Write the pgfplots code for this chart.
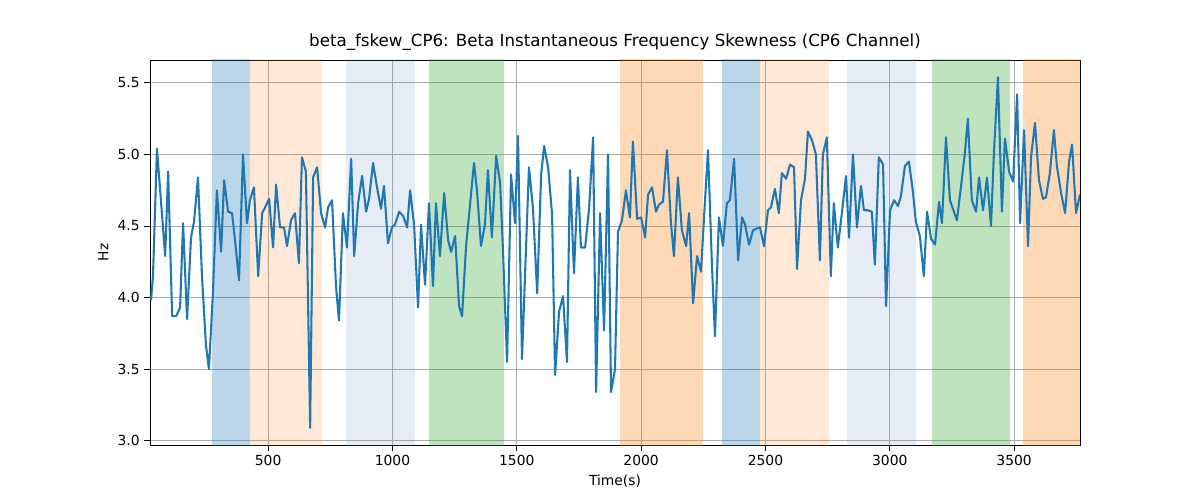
\documentclass[border=0pt]{standalone}
\usepackage{pgfplots}
\pgfplotsset{compat=1.18}
\usepackage{fontspec}
\setmainfont{DejaVu Sans}
\definecolor{c0}{HTML}{1F77B4}
\definecolor{c1}{HTML}{FF7F0E}
\definecolor{c2}{HTML}{2CA02C}
\definecolor{lav}{RGB}{100,140,200}
\begin{document}
\begin{tikzpicture}
\begin{axis}[
  width=697.5pt, height=288.75pt, scale only axis,
  xmin=25, xmax=3765, ymin=2.97, ymax=5.66,
  xtick={500,1000,1500,2000,2500,3000,3500},
  ytick={3.0,3.5,4.0,4.5,5.0,5.5},
  xticklabel style={/pgf/number format/.cd,1000 sep={}},
  yticklabel style={/pgf/number format/.cd,fixed,fixed zerofill,precision=1},
  /pgf/number format/assume math mode=true,
  ticklabel style={font=\fontsize{10.4}{12}\selectfont},
  xtick pos=bottom, ytick pos=left,
  grid=major, major grid style={gray!65, line width=0.6pt},
  tick align=outside, tick style={black, line width=0.6pt},
  axis line style={line width=0.6pt},
  xlabel={Time(s)}, ylabel={Hz},
  label style={font=\fontsize{10.4}{12}\selectfont},
  title={beta\_fskew\_CP6: Beta Instantaneous Frequency Skewness (CP6 Channel)},
  title style={font=\fontsize{12.5}{14}\selectfont, yshift=-2pt},
  clip=true,
]
\coordinate (o) at (rel axis cs:0,0);
\addplot[fill=c0, fill opacity=0.3, draw=none] coordinates {(274,2.9)(427,2.9)(427,5.7)(274,5.7)} -- cycle;
\addplot[fill=c1, fill opacity=0.17, draw=none] coordinates {(427,2.9)(717,2.9)(717,5.7)(427,5.7)} -- cycle;
\addplot[fill=lav, fill opacity=0.17, draw=none] coordinates {(813,2.9)(1090,2.9)(1090,5.7)(813,5.7)} -- cycle;
\addplot[fill=c2, fill opacity=0.3, draw=none] coordinates {(1147,2.9)(1449,2.9)(1449,5.7)(1147,5.7)} -- cycle;
\addplot[fill=c1, fill opacity=0.3, draw=none] coordinates {(1915,2.9)(2249,2.9)(2249,5.7)(1915,5.7)} -- cycle;
\addplot[fill=c0, fill opacity=0.3, draw=none] coordinates {(2326,2.9)(2479,2.9)(2479,5.7)(2326,5.7)} -- cycle;
\addplot[fill=c1, fill opacity=0.17, draw=none] coordinates {(2479,2.9)(2755,2.9)(2755,5.7)(2479,5.7)} -- cycle;
\addplot[fill=lav, fill opacity=0.17, draw=none] coordinates {(2827,2.9)(3105,2.9)(3105,5.7)(2827,5.7)} -- cycle;
\addplot[fill=c2, fill opacity=0.3, draw=none] coordinates {(3169,2.9)(3482,2.9)(3482,5.7)(3169,5.7)} -- cycle;
\addplot[fill=c1, fill opacity=0.3, draw=none] coordinates {(3534,2.9)(3765,2.9)(3765,5.7)(3534,5.7)} -- cycle;
\addplot[c0, line width=1.55pt, mark=none, line join=round] table {
29 3.98
37 4.15
53 5.04
86 4.29
98 4.88
114 3.87
130 3.87
146 3.93
158 4.52
174 3.85
190 4.42
202 4.53
218 4.84
234 4.15
250 3.67
262 3.50
278 4.03
294 4.75
311 4.32
323 4.82
339 4.60
355 4.59
367 4.40
383 4.12
399 5.00
415 4.52
427 4.68
443 4.77
460 4.15
476 4.59
488 4.63
504 4.69
520 4.35
532 4.79
548 4.49
564 4.49
576 4.36
592 4.54
608 4.59
624 4.24
636 4.98
652 4.88
669 3.09
681 4.84
697 4.91
713 4.59
729 4.49
741 4.63
757 4.68
773 4.08
785 3.84
801 4.59
817 4.35
834 4.97
846 4.29
862 4.66
878 4.85
894 4.60
906 4.69
922 4.94
938 4.77
954 4.62
966 4.78
982 4.38
998 4.49
1010 4.51
1027 4.60
1043 4.57
1059 4.49
1071 4.75
1087 4.51
1103 3.93
1115 4.51
1131 4.09
1147 4.66
1163 4.08
1175 4.66
1191 4.29
1208 4.73
1224 4.40
1236 4.32
1252 4.43
1268 3.94
1280 3.87
1296 4.36
1312 4.65
1328 4.94
1340 4.75
1356 4.36
1372 4.51
1384 4.89
1400 4.42
1417 4.99
1433 4.80
1445 4.31
1461 3.55
1477 4.86
1493 4.52
1505 5.13
1521 3.57
1537 4.34
1549 4.91
1565 4.63
1582 4.03
1598 4.86
1610 5.06
1626 4.91
1642 4.58
1654 3.46
1670 3.90
1686 4.01
1702 3.55
1714 4.89
1730 4.17
1746 4.84
1758 4.35
1775 4.35
1791 4.63
1807 5.12
1819 3.34
1835 4.59
1851 3.77
1867 5.00
1879 3.34
1895 3.50
1907 4.46
1923 4.54
1939 4.75
1955 4.56
1967 5.09
1984 4.55
2000 4.56
2016 4.42
2028 4.72
2044 4.77
2060 4.60
2072 4.65
2088 4.67
2104 5.03
2120 4.52
2132 4.29
2148 4.84
2164 4.47
2181 4.36
2193 4.59
2209 3.96
2225 4.29
2241 4.18
2253 4.56
2269 5.03
2285 4.22
2297 3.73
2313 4.56
2329 4.36
2345 4.66
2357 4.68
2374 4.97
2390 4.26
2406 4.56
2418 4.51
2434 4.37
2450 4.47
2462 4.48
2478 4.49
2494 4.36
2510 4.61
2522 4.63
2538 4.76
2554 4.59
2566 4.87
2583 4.83
2599 4.93
2615 4.91
2627 4.20
2643 4.68
2659 4.83
2671 5.16
2687 5.10
2703 5.00
2719 4.26
2731 5.00
2747 5.12
2763 4.15
2775 4.66
2791 4.35
2808 4.60
2824 4.85
2836 4.42
2852 5.00
2868 4.49
2884 4.78
2896 4.61
2912 4.61
2928 4.60
2940 4.23
2956 4.98
2973 4.93
2985 3.94
3001 4.61
3017 4.68
3033 4.64
3045 4.71
3061 4.92
3077 4.95
3093 4.74
3105 4.53
3121 4.43
3137 4.15
3150 4.60
3166 4.41
3182 4.37
3198 4.67
3210 4.52
3226 5.12
3242 4.68
3254 4.62
3270 4.54
3286 4.77
3302 5.01
3314 5.25
3330 4.68
3347 4.60
3359 4.84
3375 4.61
3391 4.84
3407 4.50
3419 5.02
3435 5.54
3451 4.60
3463 5.11
3480 4.88
3496 4.81
3512 5.42
3524 4.52
3540 5.17
3556 4.36
3568 4.98
3584 5.22
3600 4.82
3616 4.69
3628 4.70
3644 4.87
3660 5.17
3672 4.92
3689 4.73
3705 4.59
3721 4.95
3733 5.07
3749 4.59
3765 4.72
};
\end{axis}
\useasboundingbox ([shift={(-112.5pt,-41.25pt)}]o) rectangle ++(900pt,375pt);
\end{tikzpicture}
\end{document}
